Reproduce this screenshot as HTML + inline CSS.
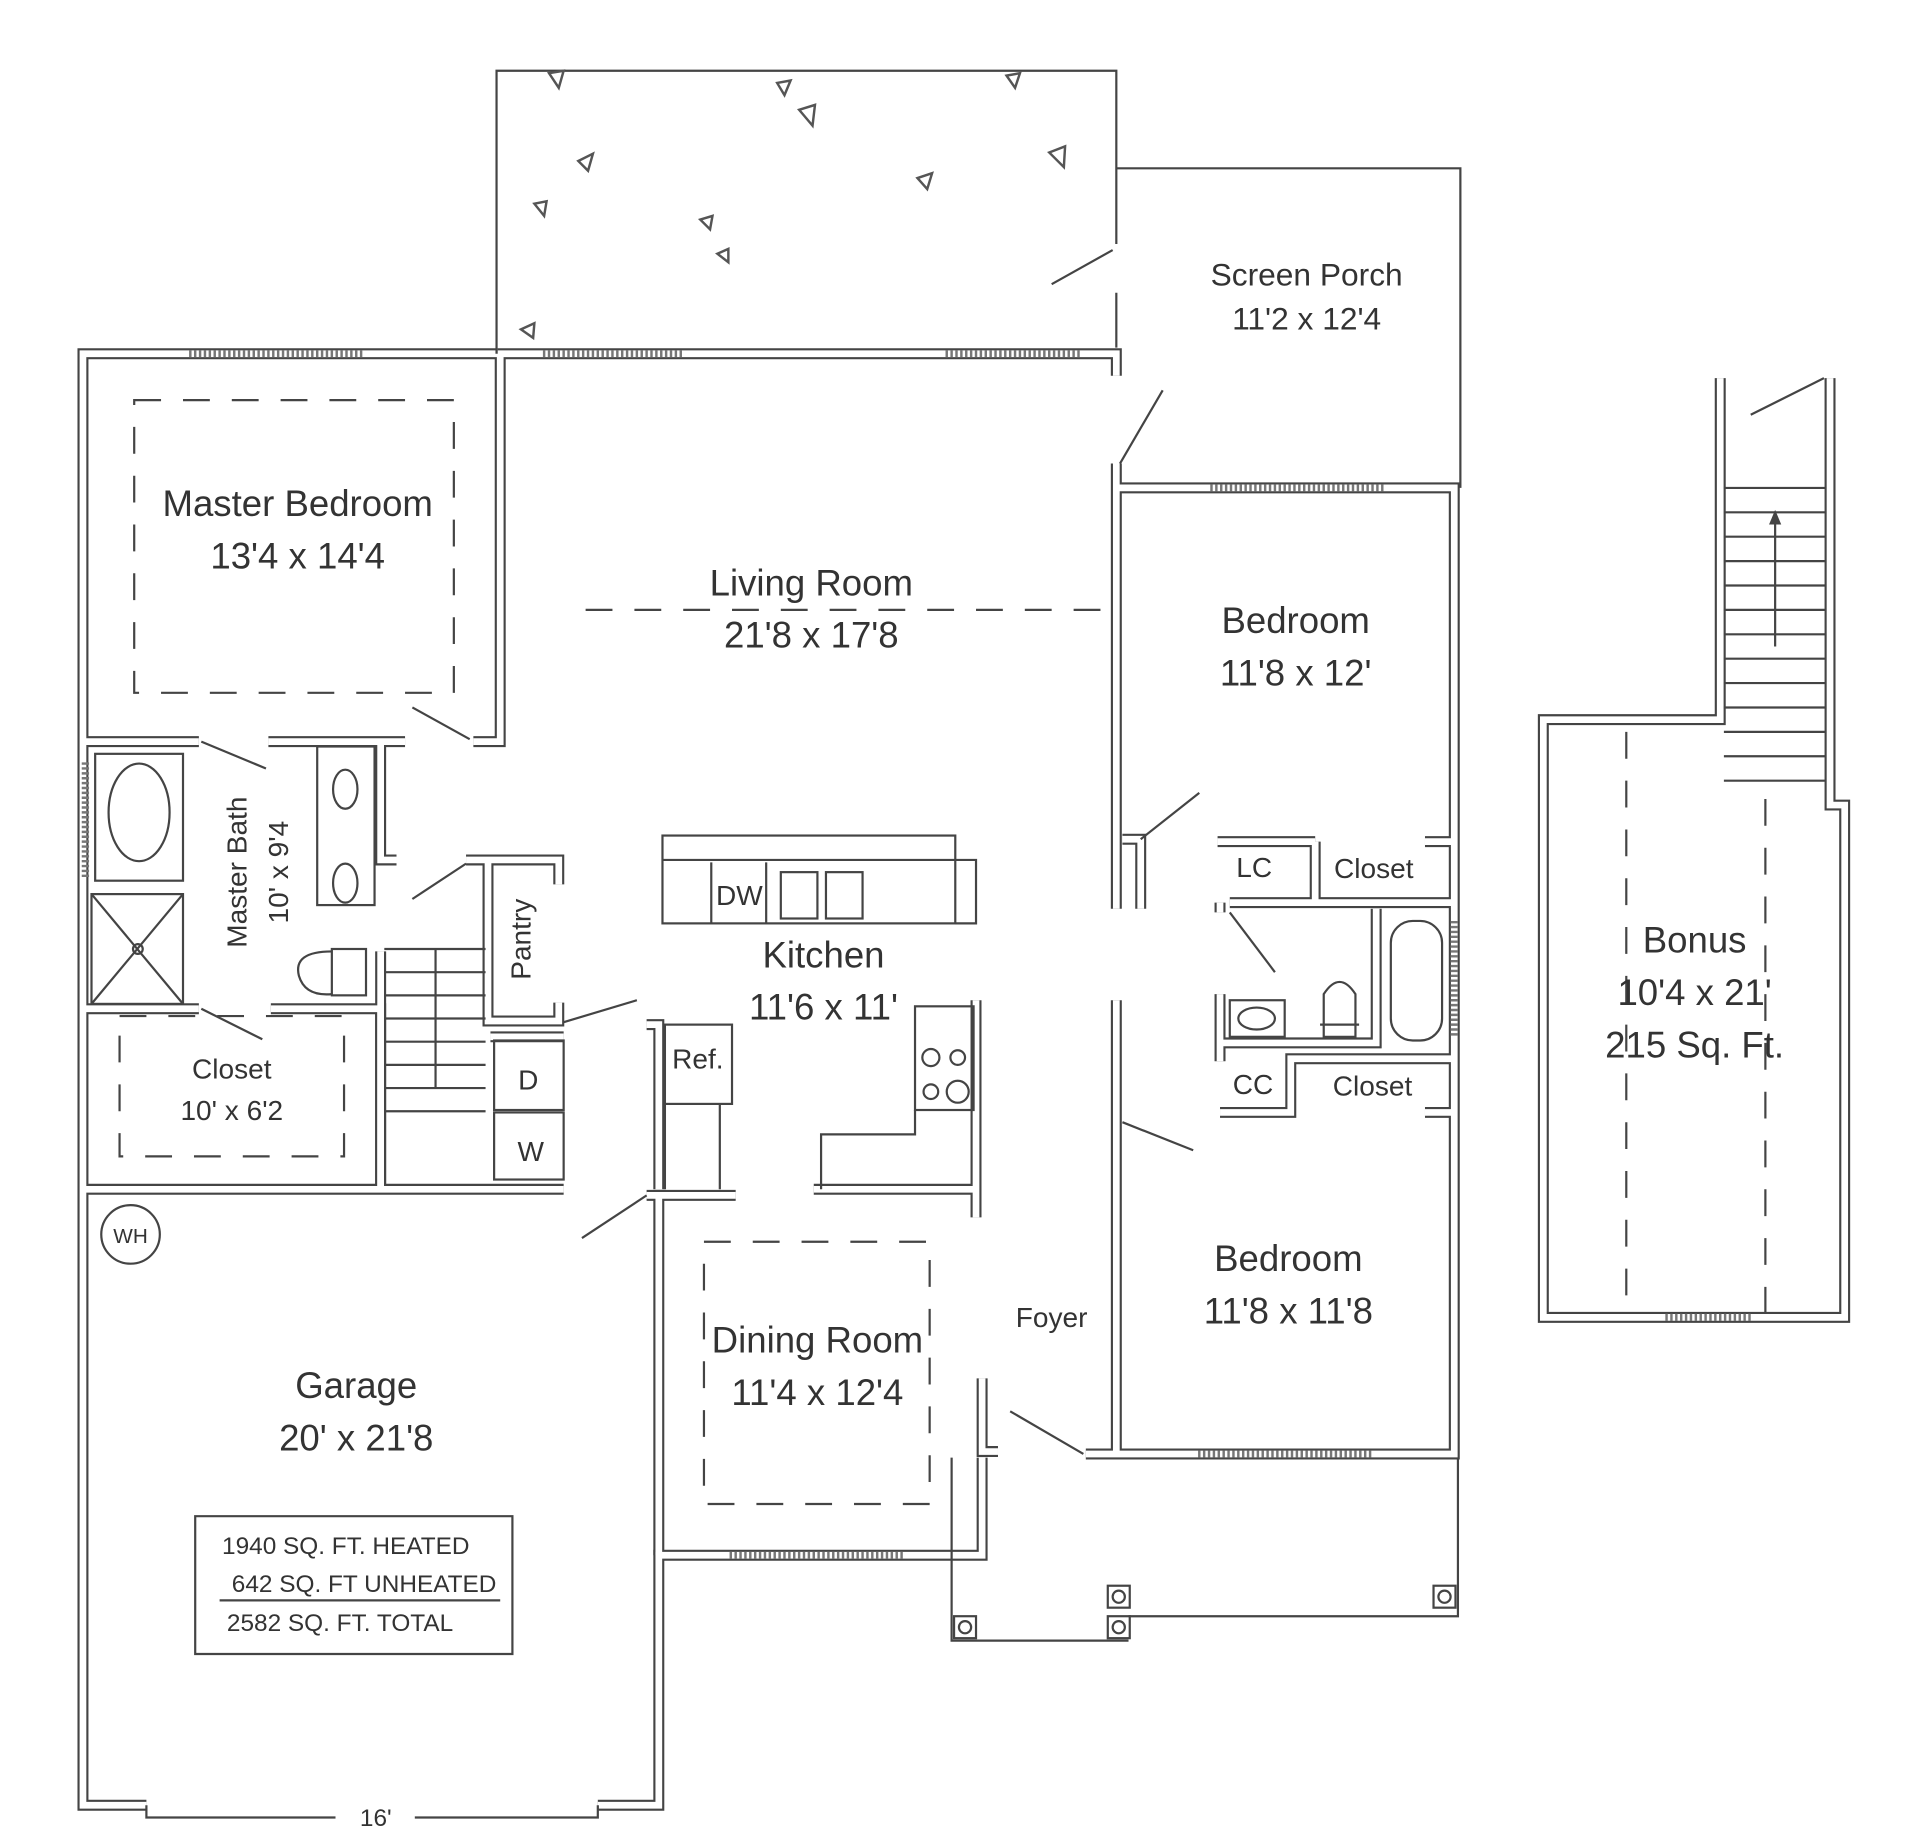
<!DOCTYPE html>
<html><head><meta charset="utf-8"><style>
html,body{margin:0;padding:0;background:#fff}
svg{display:block}
text{font-family:"Liberation Sans",sans-serif;fill:#333}
.w{fill:none;stroke:#444;stroke-width:9;stroke-linejoin:miter;stroke-linecap:butt}
.wi{fill:none;stroke:#fff;stroke-width:5.5;stroke-linejoin:miter;stroke-linecap:butt}
.t{fill:none;stroke:#444;stroke-width:1.8}
.d{fill:none;stroke:#444;stroke-width:1.8;stroke-dasharray:22 18}
.win{stroke:#777;stroke-width:6;stroke-dasharray:2 2}
</style></head><body>
<svg width="1913" height="1837" viewBox="0 0 1568 1506" preserveAspectRatio="none">
<defs>
<g id="walls">
<path d="M408 290 L68 290 L68 1480 L120 1480 M490 1480 L540 1480 L540 1275 L805 1275 L805 1195 M805 1130 L805 1190 L818 1190"/>
<path d="M408 290 L915 290 L915 308"/>
<path d="M915 380 L915 745 M915 820 L915 1192 L890 1192 M915 1192 L1192 1192 L1192 400 L915 400"/>
<path d="M410 290 L410 608 L388 608"/>
<path d="M68 608 L163 608 M220 608 L332 608 M312 608 L312 705 L325 705"/>
<path d="M68 827 L163 827 M222 827 L312 827 L312 975 M68 975 L462 975"/>
<path d="M312 975 L312 780 M382 705 L458 705 L458 725 M400 705 L400 837 L458 837 L458 822"/>
<path d="M402 850 L462 850 M540 975 L540 840 L530 840 M530 980 L603 980 M667 975 L800 975 L800 998 M800 820 L800 975"/>
<path d="M540 980 L540 1275"/>
<path d="M998 690 L1078 690 M1078 690 L1078 740 L1190 740 M1168 690 L1190 690 M1008 740 L1190 740 M1000 740 L1000 748"/>
<path d="M920 688 L935 688 L935 745"/>
<path d="M1000 815 L1000 855 L1128 855 L1128 745 M1000 855 L1000 870"/>
<path d="M1000 912 L1058 912 L1058 868 L1190 868 M1168 912 L1190 912 M1058 912 L1058 868"/>
<path d="M1410 310 L1410 590 L1265 590 L1265 1080 L1512 1080 L1512 660 L1500 660 L1500 310"/>
</g>
</defs>
<g class="w"><use href="#walls"/></g>
<g class="wi"><use href="#walls"/></g>

<path class="t" d="M407 290 L407 58 L915 58 L915 200 M915 240 L915 285"/>
<path class="t" d="M915 138 L1197 138 L1197 400"/>
<path class="t" d="M780 1195 L780 1345 L925 1345 M925 1325 L1195 1325 L1195 1195"/>
<path class="t" d="M120 1480 L120 1490 L275 1490 M340 1490 L490 1490 L490 1480"/>
<path class="t" d="M160 1243 L420 1243 L420 1356 L160 1356 Z M180 1312 L410 1312"/>

<g class="win">
<line x1="155" y1="290" x2="298" y2="290"/><line x1="445" y1="290" x2="560" y2="290"/><line x1="775" y1="290" x2="885" y2="290"/>
<line x1="992" y1="400" x2="1135" y2="400"/><line x1="982" y1="1192" x2="1125" y2="1192"/><line x1="598" y1="1275" x2="740" y2="1275"/>
<line x1="70" y1="625" x2="70" y2="720"/><line x1="1192" y1="755" x2="1192" y2="850"/><line x1="1365" y1="1080" x2="1437" y2="1080"/>
</g>

<g class="t">
<line x1="862" y1="233" x2="912" y2="205"/><line x1="918" y1="380" x2="953" y2="320"/>
<line x1="338" y1="580" x2="385" y2="606"/><line x1="165" y1="608" x2="218" y2="630"/>
<line x1="165" y1="827" x2="215" y2="852"/><line x1="338" y1="737" x2="382" y2="708"/>
<line x1="462" y1="838" x2="522" y2="820"/><line x1="477" y1="1015" x2="530" y2="980"/>
<line x1="935" y1="688" x2="983" y2="650"/><line x1="1008" y1="748" x2="1045" y2="797"/>
<line x1="920" y1="920" x2="978" y2="943"/><line x1="828" y1="1157" x2="888" y2="1192"/>
<line x1="1435" y1="340" x2="1495" y2="310"/>
</g>

<path class="d" d="M110 328 L372 328 L372 568 L110 568 Z"/>
<path class="d" d="M480 500 L912 500"/>
<path class="d" d="M98 833 L282 833 L282 948 L98 948 Z"/>
<path class="d" d="M577 1018 L762 1018 L762 1233 L577 1233 Z"/>
<path class="d" d="M1333 600 L1333 1080 M1447 655 L1447 1080"/>

<g class="t">
<rect x="78" y="618" width="72" height="104"/><ellipse cx="114" cy="666" rx="25" ry="40"/>
<rect x="75" y="733" width="75" height="90"/><path d="M75 733 L150 823 M150 733 L75 823"/><circle cx="113" cy="778" r="4"/>
<rect x="260" y="612" width="47" height="130"/><ellipse cx="283" cy="647" rx="10" ry="16"/><ellipse cx="283" cy="724" rx="10" ry="16"/>
<rect x="272" y="778" width="28" height="38"/><path d="M272 780 Q240 780 245 800 Q250 817 272 815"/>
<path d="M315 778 L398 778 M315 797 L398 797 M315 816 L398 816 M315 835 L398 835 M315 854 L398 854 M315 873 L398 873 M315 892 L398 892 M315 911 L398 911 M357 778 L357 892"/>
<rect x="405" y="853" width="57" height="57"/><rect x="405" y="912" width="57" height="55"/>
<rect x="543" y="685" width="240" height="72"/><path d="M543 705 L800 705 L800 757 L783 757 M583 707 L583 757 M628 707 L628 757"/>
<rect x="640" y="715" width="30" height="38"/><rect x="677" y="715" width="30" height="38"/>
<rect x="545" y="840" width="55" height="65"/><path d="M545 905 L545 975 M590 905 L590 975"/>
<rect x="750" y="825" width="48" height="85"/><circle cx="763" cy="867" r="7"/><circle cx="785" cy="867" r="6"/><circle cx="763" cy="895" r="6"/><circle cx="785" cy="895" r="9"/>
<path d="M750 910 L750 930 L673 930 L673 975"/>
<circle cx="107" cy="1012" r="24"/>
<rect x="1008" y="820" width="45" height="30"/><ellipse cx="1030" cy="835" rx="15" ry="9"/>
<path d="M1085 850 L1085 815 Q1098 795 1111 815 L1111 850 Z M1082 840 L1114 840"/>
<rect x="1140" y="755" width="42" height="98" rx="18"/>
<path d="M1413 400 L1497 400 M1413 420 L1497 420 M1413 440 L1497 440 M1413 460 L1497 460 M1413 480 L1497 480 M1413 500 L1497 500 M1413 520 L1497 520 M1413 540 L1497 540 M1413 560 L1497 560 M1413 580 L1497 580 M1413 600 L1497 600 M1413 620 L1497 620 M1413 640 L1497 640 M1455 530 L1455 420"/>
<rect x="908" y="1300" width="18" height="18"/><rect x="908" y="1325" width="18" height="18"/><rect x="782" y="1325" width="18" height="18"/><rect x="1175" y="1300" width="18" height="18"/>
<circle cx="917" cy="1309" r="5"/><circle cx="917" cy="1334" r="5"/><circle cx="791" cy="1334" r="5"/><circle cx="1184" cy="1309" r="5"/>
</g>
<path d="M1450 430 L1455 418 L1460 430 Z" fill="#444"/>
<g fill="none" stroke="#555" stroke-width="2">
<path d="M450 60 L462 58 L458 72 Z"/><path d="M637 68 L648 66 L643 78 Z"/><path d="M825 62 L836 60 L832 72 Z"/><path d="M655 90 L668 86 L666 103 Z"/>
<path d="M474 132 L486 126 L482 140 Z"/><path d="M860 125 L873 120 L872 137 Z"/><path d="M752 146 L764 142 L760 155 Z"/><path d="M438 167 L448 165 L446 177 Z"/>
<path d="M574 180 L584 177 L582 188 Z"/><path d="M588 208 L597 204 L597 215 Z"/><path d="M427 270 L438 265 L437 277 Z"/>
</g>

<g font-size="30" text-anchor="middle">
<text x="244" y="423">Master Bedroom</text><text x="244" y="466">13'4 x 14'4</text>
<text x="665" y="488">Living Room</text><text x="665" y="531">21'8 x 17'8</text>
<text x="1062" y="519">Bedroom</text><text x="1062" y="562">11'8 x 12'</text>
<text x="675" y="793">Kitchen</text><text x="675" y="836">11'6 x 11'</text>
<text x="1056" y="1042">Bedroom</text><text x="1056" y="1085">11'8 x 11'8</text>
<text x="670" y="1109">Dining Room</text><text x="670" y="1152">11'4 x 12'4</text>
<text x="292" y="1146">Garage</text><text x="292" y="1189">20' x 21'8</text>
<text x="1389" y="781">Bonus</text><text x="1389" y="824">10'4 x 21'</text><text x="1389" y="867">215 Sq. Ft.</text>
</g>
<g font-size="26" text-anchor="middle">
<text x="1071" y="234">Screen Porch</text><text x="1071" y="270">11'2 x 12'4</text>
</g>
<g font-size="23" text-anchor="middle">
<text x="190" y="884">Closet</text><text x="190" y="918">10' x 6'2</text>
<text x="1126" y="720">Closet</text><text x="1125" y="898">Closet</text>
<text x="1028" y="719">LC</text><text x="1027" y="897">CC</text>
<text x="572" y="876">Ref.</text><text x="606" y="742">DW</text>
<text x="433" y="893">D</text><text x="435" y="952">W</text>
<text x="862" y="1088">Foyer</text>
<text transform="translate(202,715) rotate(-90)">Master Bath</text>
<text transform="translate(236,715) rotate(-90)">10' x 9'4</text>
<text transform="translate(435,770) rotate(-90)">Pantry</text>
</g>
<text x="107" y="1019" font-size="17" text-anchor="middle" font-family="Liberation Serif">WH</text>
<g font-size="20">
<text x="182" y="1274">1940 SQ. FT. HEATED</text>
<text x="190" y="1305">642  SQ. FT UNHEATED</text>
<text x="186" y="1337">2582 SQ. FT. TOTAL</text>
<text x="295" y="1497">16'</text>
</g>
</svg>
</body></html>
